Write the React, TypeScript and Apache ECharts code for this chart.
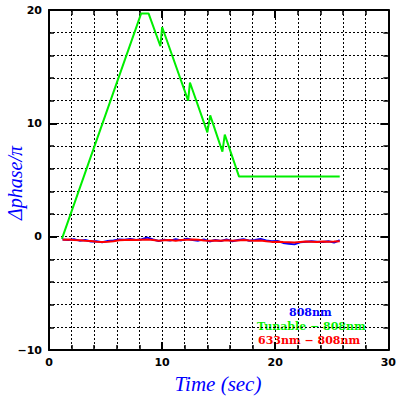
import React, { useEffect, useRef } from "react";
import * as echarts from "echarts";

const greenX = [1.14, 8.15, 8.8, 9.85, 10.0, 12.3, 12.46, 14.0, 14.25, 15.33, 15.54, 16.8, 25.7];
const greenY = [-0.2, 19.7, 19.7, 16.8, 18.5, 12.0, 13.6, 9.2, 10.7, 7.5, 9.0, 5.3, 5.3];

const timeX = [
  1.2, 1.7, 2.2, 2.7, 3.2, 3.7, 4.2, 4.7, 5.2, 5.7, 6.2, 6.7, 7.2, 7.7, 8.2, 8.7, 9.2, 9.7, 10.2, 10.7,
  11.2, 11.7, 12.2, 12.7, 13.2, 13.7, 14.2, 14.7, 15.2, 15.7, 16.2, 16.7, 17.2, 17.7, 18.2, 18.7, 19.2, 19.7, 20.2, 20.7,
  21.2, 21.7, 22.2, 22.7, 23.2, 23.7, 24.2, 24.7, 25.2, 25.7,
];
const redY = [
  -0.28, -0.25, -0.3, -0.32, -0.36, -0.38, -0.45, -0.46, -0.44, -0.4, -0.32, -0.3, -0.28, -0.3, -0.27, -0.24, -0.3, -0.36, -0.32, -0.3,
  -0.35, -0.3, -0.27, -0.25, -0.28, -0.33, -0.36, -0.33, -0.35, -0.31, -0.36, -0.33, -0.3, -0.34, -0.36, -0.33, -0.4, -0.46, -0.44, -0.48,
  -0.5, -0.52, -0.46, -0.43, -0.44, -0.46, -0.42, -0.45, -0.43, -0.4,
];
const blueY = [
  -0.25, -0.3, -0.22, -0.35, -0.3, -0.42, -0.4, -0.5, -0.38, -0.34, -0.25, -0.28, -0.2, -0.3, -0.22, -0.08, -0.25, -0.38, -0.28, -0.35,
  -0.22, -0.33, -0.18, -0.3, -0.35, -0.25, -0.42, -0.3, -0.38, -0.24, -0.4, -0.3, -0.22, -0.36, -0.3, -0.2, -0.33, -0.4, -0.38, -0.55,
  -0.62, -0.68, -0.5, -0.45, -0.4, -0.44, -0.48, -0.4, -0.52, -0.32,
];

const legendLines = ["808nm", "Tunable − 808nm", "633nm − 808nm"];
const legendColors = ["#0000ff", "#00ee00", "#ff0000"];

const labelFont = { fontFamily: "DejaVu Sans", fontWeight: "bold" as const, fontSize: 11, color: "#000" };
const dotted = { show: true, lineStyle: { color: "#000", width: 1, type: [2, 2] as any } };

export default function App() {
  const ref = useRef<HTMLDivElement>(null);
  useEffect(() => {
    document.body.style.margin = "0";
    const chart = echarts.init(ref.current!, null, { renderer: "svg" });
    const zip = (xs: number[], ys: number[]) => xs.map((x, i) => [x, ys[i]]);
    const baseX = {
      type: "value" as const,
      min: 0,
      max: 30,
      interval: 10,
      axisLine: { show: true, onZero: false, lineStyle: { color: "#000", width: 2 } },
      axisTick: { show: true, inside: true, length: 8, lineStyle: { color: "#000", width: 2 } },
      minorTick: { show: true, splitNumber: 5, length: 5, lineStyle: { color: "#000", width: 1.5 } },
    };
    const baseY = {
      type: "value" as const,
      min: -10,
      max: 20,
      interval: 10,
      axisLine: { show: true, onZero: false, lineStyle: { color: "#000", width: 2 } },
      axisTick: { show: true, inside: true, length: 8, lineStyle: { color: "#000", width: 2 } },
      minorTick: { show: true, splitNumber: 5, length: 5, lineStyle: { color: "#000", width: 1.5 } },
    };
    const legendStyle = (i: number) => ({
      text: legendLines[i],
      fill: legendColors[i],
      fontFamily: "DejaVu Serif",
      fontWeight: "bold",
      fontSize: 11,
      lineHeight: 11,
      align: "left",
      verticalAlign: "middle",
    });
    chart.setOption({
      animation: false,
      backgroundColor: "#fff",
      grid: { left: 49, right: 9, top: 10, bottom: 49, containLabel: false },
      xAxis: [
        {
          ...baseX,
          position: "bottom",
          axisLabel: { ...labelFont, margin: 7 },
          splitLine: dotted,
          minorSplitLine: dotted,
        },
        {
          ...baseX,
          position: "top",
          axisLabel: { show: false },
          splitLine: { show: false },
        },
      ],
      yAxis: [
        {
          ...baseY,
          position: "left",
          axisLabel: { ...labelFont, margin: 7, formatter: (v: number) => String(v).replace("-", "−") },
          splitLine: dotted,
          minorSplitLine: dotted,
        },
        {
          ...baseY,
          position: "right",
          axisLabel: { show: false },
          splitLine: { show: false },
        },
      ],
      series: [
        {
          type: "line",
          data: zip(greenX, greenY),
          symbol: "none",
          lineStyle: { color: "#00ee00", width: 2 },
          z: 3,
        },
        {
          type: "line",
          data: zip(timeX, blueY),
          symbol: "none",
          lineStyle: { color: "#0000ff", width: 2 },
          z: 4,
        },
        {
          type: "line",
          data: zip(timeX, redY),
          symbol: "none",
          lineStyle: { color: "#ff0000", width: 2 },
          z: 5,
        },
      ],
      graphic: [
        {
          type: "text",
          x: 218,
          y: 384,
          style: {
            text: "Time (sec)",
            fill: "#0000ff",
            font: "italic 21px 'Liberation Serif'",
            align: "center",
            verticalAlign: "middle",
          },
        },
        {
          type: "text",
          x: 15,
          y: 183,
          rotation: Math.PI / 2,
          style: {
            text: "Δphase/π",
            fill: "#0000ff",
            font: "italic 20px 'Liberation Serif'",
            align: "center",
            verticalAlign: "middle",
          },
        },
        { type: "text", x: 289, y: 312, style: legendStyle(0) },
        { type: "text", x: 257, y: 326, style: legendStyle(1) },
        { type: "text", x: 258, y: 340, style: legendStyle(2) },
      ],
    });
    return () => chart.dispose();
  }, []);
  return <div ref={ref} style={{ width: 399, height: 399 }} />;
}
